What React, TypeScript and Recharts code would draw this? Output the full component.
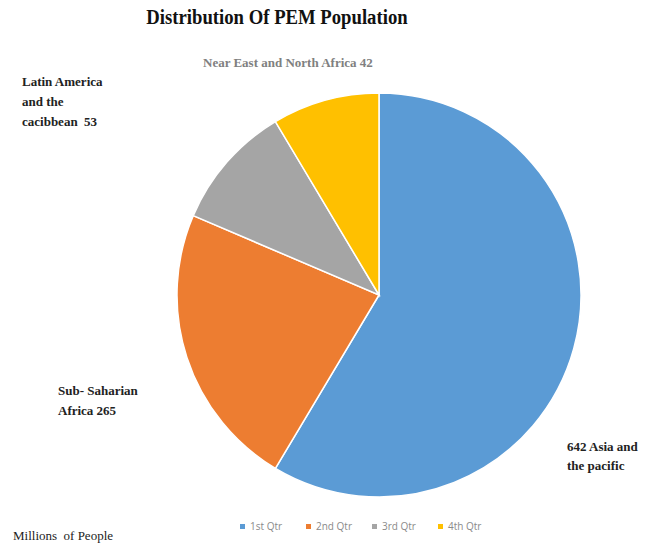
import { PieChart, Pie, Cell, Legend } from "recharts";

// Excel sample data behind the pie; region labels were typed on as text boxes
const quarters = ["1st Qtr", "2nd Qtr", "3rd Qtr", "4th Qtr"];
const sales = [8.2, 3.2, 1.4, 1.2];
const colors = ["#5B9BD5", "#ED7D31", "#A5A5A5", "#FFC000"];

const chartData = quarters.map((name, i) => ({ name, value: sales[i] }));

const serif = "'Liberation Serif', 'Times New Roman', serif";

const noteStyle: React.CSSProperties = {
  position: "absolute",
  fontFamily: serif,
  fontWeight: 700,
  fontSize: 13,
  lineHeight: "20px",
  color: "#222",
  whiteSpace: "nowrap",
};

const QtrLegend = (props: any) => {
  const { payload } = props;
  return (
    <div style={{ display: "flex", fontFamily: "'Open Sans', sans-serif", fontSize: 10, color: "#8a8a8a" }}>
      {(payload || []).map((p: any) => (
        <div key={p.value} style={{ display: "flex", alignItems: "center", width: 66 }}>
          <span style={{ width: 5, height: 5, background: p.color, marginRight: 5, display: "inline-block" }} />
          {p.value}
        </div>
      ))}
    </div>
  );
};

export default function App() {
  return (
    <div style={{ position: "absolute", left: 0, top: 0, width: 658, height: 545, background: "#fff" }}>
      <div
        style={{
          position: "absolute",
          left: 0,
          top: 6,
          width: 554,
          textAlign: "center",
          fontFamily: serif,
          fontWeight: 700,
          fontSize: 20,
          color: "#111",
          transform: "scaleX(0.935)",
          transformOrigin: "277px 0",
        }}
      >
        Distribution Of PEM Population
      </div>
      <div style={{ ...noteStyle, left: 203, top: 53, color: "#808080" }}>Near East and North Africa 42</div>
      <div style={{ ...noteStyle, left: 22, top: 72 }}>
        Latin America
        <br />
        and the
        <br />
        cacibbean&nbsp; 53
      </div>
      <div style={{ ...noteStyle, left: 58, top: 381 }}>
        Sub- Saharian
        <br />
        Africa 265
      </div>
      <div style={{ ...noteStyle, left: 567, top: 437, lineHeight: "19px" }}>
        642 Asia and
        <br />
        the pacific
      </div>
      <div
        style={{
          position: "absolute",
          left: 13,
          top: 528,
          fontFamily: serif,
          fontSize: 13,
          color: "#222",
          whiteSpace: "nowrap",
        }}
      >
        Millions&nbsp; of People
      </div>
      <PieChart
        width={658}
        height={545}
        margin={{ top: 0, right: 0, bottom: 0, left: 0 }}
        style={{ position: "absolute", left: 0, top: 0 }}
      >
        <Pie
          data={chartData}
          dataKey="value"
          nameKey="name"
          cx={379}
          cy={295}
          outerRadius={202}
          startAngle={90}
          endAngle={-270}
          stroke="#fff"
          strokeWidth={1.5}
          isAnimationActive={false}
        >
          {chartData.map((d, i) => (
            <Cell key={d.name} fill={colors[i]} />
          ))}
        </Pie>
        <Legend
          verticalAlign="bottom"
          align="left"
          content={<QtrLegend />}
          wrapperStyle={{ top: 519, left: 240, bottom: "auto", width: 280 }}
        />
      </PieChart>
    </div>
  );
}
